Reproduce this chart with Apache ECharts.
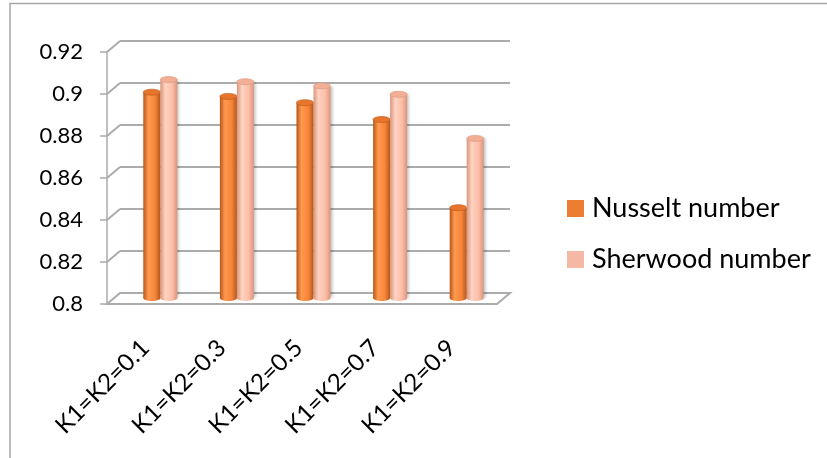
<!DOCTYPE html>
<html>
<head>
<meta charset="utf-8">
<script src="https://cdn.jsdelivr.net/npm/echarts@6/dist/echarts.min.js"></script>
<style>
  html, body { margin: 0; padding: 0; background: #fff; }
  #chart { width: 827px; height: 458px; }
</style>
</head>
<body>
<div id="chart"></div>
<script>
// Chart data
const categories = ['K1=K2=0.1', 'K1=K2=0.3', 'K1=K2=0.5', 'K1=K2=0.7', 'K1=K2=0.9'];
const nusselt = [0.898, 0.896, 0.893, 0.885, 0.843];
const sherwood = [0.904, 0.903, 0.901, 0.897, 0.876];
const yTicks = [0.8, 0.82, 0.84, 0.86, 0.88, 0.9, 0.92];
const seriesNames = ['Nusselt number', 'Sherwood number'];

const Y_MIN = 0.8, Y_MAX = 0.92, Y_STEP = 0.02;
const DEPTH = [-13, 11];           // shift from back wall to front edge
const FONT = 'Lato, "Open Sans", sans-serif';
const GRID_COLOR = '#ABABAB';

const palettes = [
  { edge: '#B8561A', mid: '#FF9A4E', body: '#F6853A', cap: '#E8752C', legend: '#ED7D31' },
  { edge: '#D9957C', mid: '#FFD3C2', body: '#FDBDA6', cap: '#F3AE96', legend: '#F4B8A5' }
];

function barItem(params, api) {
  const cat = api.value(0), v = api.value(1);
  const top = api.coord([cat, v]);
  const base = api.coord([cat, Y_MIN]);
  const band = api.size([1, 0])[0];
  const w = band * 0.222;
  const x = params.seriesIndex === 2 ? top[0] - w : top[0];
  const p = palettes[params.seriesIndex - 2];
  const ry = 3;
  const grad = new echarts.graphic.LinearGradient(0, 0, 1, 0, [
    { offset: 0, color: p.edge },
    { offset: 0.3, color: p.mid },
    { offset: 0.7, color: p.body },
    { offset: 1, color: p.edge }
  ]);
  return {
    type: 'group',
    children: [
      { type: 'rect', shape: { x: x, y: top[1], width: w, height: base[1] - top[1] },
        style: { fill: grad, shadowBlur: 3, shadowOffsetX: 2, shadowColor: 'rgba(0,0,0,0.25)' } },
      { type: 'ellipse', shape: { cx: x + w / 2, cy: base[1], rx: w / 2, ry: ry },
        style: { fill: grad } },
      { type: 'ellipse', shape: { cx: x + w / 2, cy: top[1], rx: w / 2, ry: ry },
        style: { fill: p.cap, stroke: p.edge, lineWidth: 0.6 } }
    ]
  };
}

// Floor plane and the short diagonals joining front ticks to back grid lines
function frameItem(params, api) {
  const v = api.value(0);
  const cs = params.coordSys;
  const back = api.coord([0, v]);
  const bx = cs.x;
  const by = back[1];
  const children = [];
  if (v === Y_MIN) {
    children.push({
      type: 'polygon',
      shape: { points: [[bx, by], [bx + cs.width, by],
        [bx + cs.width + DEPTH[0], by + DEPTH[1]], [bx + DEPTH[0], by + DEPTH[1]]] },
      style: { fill: '#fff', stroke: GRID_COLOR, lineWidth: 2 }
    });
  } else {
    children.push({
      type: 'line',
      shape: { x1: bx + DEPTH[0], y1: by + DEPTH[1], x2: bx, y2: by },
      style: { stroke: GRID_COLOR, lineWidth: 2 }
    });
  }
  return { type: 'group', children: children };
}

const chart = echarts.init(document.getElementById('chart'));
chart.setOption({
  animation: false,
  backgroundColor: '#fff',
  textStyle: { fontFamily: FONT },
  graphic: [{
    type: 'rect', silent: true, z: -10,
    shape: { x: 10, y: 3.5, width: 900, height: 600 },
    style: { fill: 'none', stroke: '#A6A6A6', lineWidth: 1.5 }
  }],
  legend: {
    orient: 'vertical', left: 562, top: 190, itemGap: 24,
    itemWidth: 17, itemHeight: 17, icon: 'rect',
    textStyle: { fontFamily: FONT, fontSize: 27, color: '#000', padding: [0, 0, 0, 3] },
    data: [
      { name: seriesNames[0], itemStyle: { color: palettes[0].legend } },
      { name: seriesNames[1], itemStyle: { color: palettes[1].legend } }
    ]
  },
  grid: [
    { left: 120, top: 41, width: 390, height: 252 },   // back wall
    { left: 107, top: 52, width: 383, height: 252 },   // front axes
    { left: 122, top: 46, width: 383, height: 252 }    // columns
  ],
  xAxis: [
    { gridIndex: 0, type: 'category', data: categories, show: false },
    { gridIndex: 1, type: 'category', data: categories,
      axisLine: { lineStyle: { color: GRID_COLOR, width: 1.5 } },
      axisTick: { length: 7, lineStyle: { color: GRID_COLOR, width: 1.5 } },
      axisLabel: { rotate: 45, margin: 40, fontSize: 24, color: '#000', fontFamily: FONT,
        padding: [0, 0, 0, 0], align: 'right' } },
    { gridIndex: 2, type: 'category', data: categories, show: false }
  ],
  yAxis: [
    { gridIndex: 0, type: 'value', min: Y_MIN, max: Y_MAX, interval: Y_STEP,
      axisLabel: { show: false }, axisLine: { show: false }, axisTick: { show: false },
      splitLine: { lineStyle: { color: GRID_COLOR, width: 2 } } },
    { gridIndex: 1, type: 'value', min: Y_MIN, max: Y_MAX, interval: Y_STEP,
      splitLine: { show: false },
      axisLine: { show: true, lineStyle: { color: GRID_COLOR, width: 1.5 } },
      axisTick: { show: true, length: 7, lineStyle: { color: GRID_COLOR, width: 1.5 } },
      axisLabel: { margin: 24, fontSize: 22, color: '#000', fontFamily: FONT,
        formatter: v => String(+v.toFixed(2)) } },
    { gridIndex: 2, type: 'value', min: Y_MIN, max: Y_MAX, interval: Y_STEP, show: false }
  ],
  series: [
    { type: 'custom', name: 'frame', xAxisIndex: 0, yAxisIndex: 0, silent: true,
      renderItem: frameItem, data: yTicks.map(v => [v]), encode: { y: 0 }, z: 1 },
    { type: 'bar', xAxisIndex: 1, yAxisIndex: 1, data: [], silent: true },
    { type: 'custom', name: seriesNames[0], xAxisIndex: 2, yAxisIndex: 2, z: 3,
      itemStyle: { color: palettes[0].legend }, renderItem: barItem,
      encode: { x: 0, y: 1 }, data: nusselt.map((v, i) => [i, v]) },
    { type: 'custom', name: seriesNames[1], xAxisIndex: 2, yAxisIndex: 2, z: 3,
      itemStyle: { color: palettes[1].legend }, renderItem: barItem,
      encode: { x: 0, y: 1 }, data: sherwood.map((v, i) => [i, v]) }
  ]
});
</script>
</body>
</html>
